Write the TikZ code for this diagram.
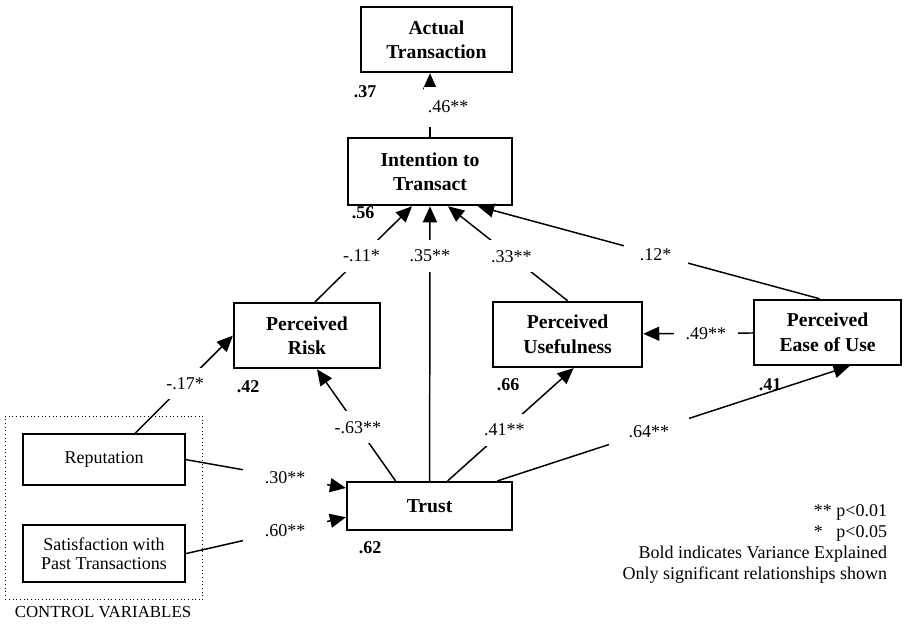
\documentclass[tikz,border=0pt]{standalone}
\usepackage{fontspec}
\setmainfont{Liberation Serif}
\usetikzlibrary{positioning,arrows.meta,fit}
\tikzset{
    construct/.style={draw,line width=1.5pt,fill=white,align=center,
        inner sep=2pt,font=\fontsize{14}{17.5}\selectfont\bfseries},
    control/.style={draw,line width=1.2pt,fill=white,align=center,
        minimum width=4.05cm,inner sep=2pt,font=\fontsize{12.8}{14}\selectfont},
    ctrlbox/.style={draw,dotted,line width=0.6pt,inner sep=4.2mm},
    coef/.style={fill=white,inner xsep=3pt,inner ysep=7pt,
        font=\fontsize{12.8}{14}\selectfont},
    rsq/.style={font=\fontsize{12.8}{14}\selectfont\bfseries},
    arrow/.style={-{Triangle[length=4mm,width=3.5mm]},line width=1.05pt}
}

\begin{document}
\begin{tikzpicture}
            \useasboundingbox (0,0) rectangle (22.625,-15.575);

            \node[construct,minimum width=3.78cm,minimum height=1.63cm] (actual) at (10.91,-0.99)
                {Actual\\Transaction};
            \node[construct,minimum width=4.10cm,minimum height=1.68cm] (intention) at (10.75,-4.29)
                {Intention to\\Transact};
            \node[construct,minimum width=3.65cm,minimum height=1.63cm] (risk) at (7.675,-8.39)
                {Perceived\\Risk};
            \node[construct,minimum width=3.73cm,minimum height=1.63cm] (useful) at (14.19,-8.36)
                {Perceived\\Usefulness};
            \node[construct,minimum width=3.68cm,minimum height=1.63cm] (ease) at (20.69,-8.31)
                {Perceived\\Ease of Use};
            \node[construct,minimum width=4.13cm,minimum height=1.20cm] (trust) at (10.74,-12.65)
                {Trust};

            \node[control,minimum height=1.28cm] (reput) at (2.60,-11.49) {Reputation};
            \node[control,minimum height=1.43cm] (satis) at (2.60,-13.84)
                {Satisfaction with\\Past Transactions};
            \node[ctrlbox,fit=(reput)(satis)] (ctrl) {};
            \node[font=\fontsize{12}{14}\selectfont] (ctrllabel) at (2.575,-15.30) {CONTROL VARIABLES};

            % variance explained
            \node[rsq] (r2actual) at (9.125,-2.30) {.37};
            \node[rsq] (r2intent) at (9.075,-5.325) {.56};
            \node[rsq] (r2risk) at (6.20,-9.675) {.42};
            \node[rsq] (r2useful) at (12.70,-9.625) {.66};
            \node[rsq] (r2ease) at (19.25,-9.625) {.41};
            \node[rsq] (r2trust) at (9.25,-13.70) {.62};

            % paths
            \draw[arrow] (intention) -- (intention |- actual.south)
                node[coef,pos=0.47,xshift=4.5mm,minimum height=0.98cm] {.46**};
            \draw[arrow] ([xshift=2mm]risk.north) -- ([xshift=-4.5mm]intention.south)
                node[coef,pos=0.48] {-.11*};
            \draw[arrow] (trust) -- (intention)
                node[coef,pos=0.82] {.35**};
            \draw[arrow] (useful.north) -- ([xshift=4.5mm]intention.south)
                node[coef,pos=0.47] {.33**};
            \draw[arrow] ([xshift=-2mm]ease.north) -- ([xshift=12mm]intention.south)
                node[coef,pos=0.48,minimum width=1.6cm] {.12*};
            \draw[arrow] ([xshift=-8.5mm]trust.north) -- ([xshift=2.5mm]risk.south)
                node[coef,pos=0.48] {-.63**};
            \draw[arrow] ([xshift=4.5mm]trust.north) -- ([xshift=1.5mm]useful.south)
                node[coef,pos=0.45] {.41**};
            \draw[arrow] ([xshift=-4mm]trust.north east) -- ([xshift=5.5mm]ease.south)
                node[coef,pos=0.43,minimum width=2cm] {.64**};
            \draw[arrow] (ease) -- (useful)
                node[coef,pos=0.43,minimum width=1.6cm] {.49**};
            \draw[arrow] ([xshift=7.8mm]reput.north) -- (risk.west)
                node[coef,pos=0.51] {-.17*};
            \draw[arrow] (reput.east) -- ([yshift=4.5mm]trust.west)
                node[coef,pos=0.62,minimum width=2.1cm] {.30**};
            \draw[arrow] (satis.east) -- ([yshift=-2.8mm]trust.west)
                node[coef,pos=0.62,minimum width=2.1cm] {.60**};

            \node[align=right,anchor=east,font=\fontsize{12.8}{14.9}\selectfont] (legend) at (22.30,-13.59)
                {** p<0.01\\*\hphantom{*} p<0.05\\Bold indicates Variance Explained\\Only significant relationships shown};
        \end{tikzpicture}
\end{document}
